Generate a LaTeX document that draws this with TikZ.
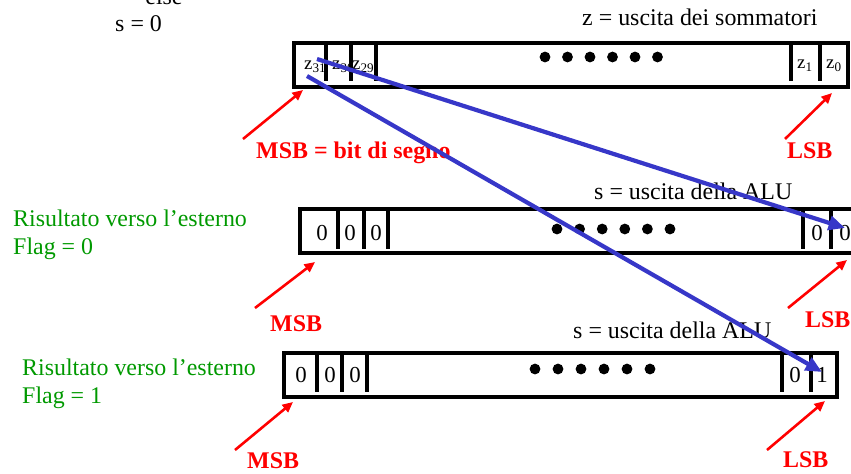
\documentclass[tikz,border=0pt]{standalone}
\usepackage{fontspec}
\setmainfont{Liberation Serif}
\usetikzlibrary{arrows.meta}
\definecolor{flaggreen}{RGB}{0,153,0}
\definecolor{wireblue}{RGB}{55,55,200}
\begin{document}
\begin{tikzpicture}
[
x=0.03cm, y=-0.03cm,
regline/.style={line width=2.8pt},
celltext/.style={font=\fontsize{19.5}{22}\selectfont, anchor=base, inner sep=0},
ztext/.style={font=\fontsize{16}{18}\selectfont, anchor=base west, inner sep=0},
plaintext/.style={font=\fontsize{20.4}{24}\selectfont, anchor=base west, inner sep=0},
greentext/.style={plaintext, text=flaggreen},
redtext/.style={plaintext, text=red, font=\fontsize{20.4}{24}\selectfont\bfseries},
redarrow/.style={draw=red, line width=2.2pt, -{Triangle[length=9pt,width=8pt]}},
bluearrow/.style={draw=wireblue, line width=3.6pt, -{Triangle[length=14pt,width=12pt]}}
]
\useasboundingbox (0,0) rectangle (851,473);
%Registers
\draw[regline] (294,43) rectangle (848,87);
\foreach \x in {326,351,376,791,820} \draw[regline] (\x,41) -- (\x,81);
\foreach \i in {0,...,5} \fill (545+22.5*\i,57) circle[radius=4.6pt];
\draw[regline] (870,209) -- (300,209) -- (300,253) -- (870,253);
\foreach \x in {338,364,388,803,831} \draw[regline] (\x,209) -- (\x,249);
\foreach \i in {0,...,5} \fill (557+22.6*\i,229) circle[radius=4.6pt];
\draw[regline] (284,353) rectangle (837,397);
\foreach \x in {317,342,367,782,811} \draw[regline] (\x,353) -- (\x,392);
\foreach \i in {0,...,5} \fill (535+23*\i,369) circle[radius=4.6pt];
%Nodes
\node[plaintext, anchor=base] at(164,4)		(els) {else};
\node[plaintext] at(115,31)		(s0) {s = 0};
\node[plaintext] at(582,25)		(zout) {z = uscita dei sommatori};
\node[ztext] at(304,69)		(z31) {z\textsubscript{31}};
\node[ztext] at(332,69)		(z30) {z\textsubscript{30}};
\node[ztext] at(352,69)		(z29) {z\textsubscript{29}};
\node[ztext] at(797,68)		(z1) {z\textsubscript{1}};
\node[ztext] at(826,68)		(z0) {z\textsubscript{0}};
\node[redtext] at(256,158)		(sign) {MSB = bit di segno};
\node[redtext] at(787,158)		(lsb1) {LSB};
\node[plaintext] at(594,199)		(alu1) {s = uscita della ALU};
\node[greentext] at(13,226)		(out1) {Risultato verso l’esterno};
\node[greentext] at(13,254)		(flag0) {Flag = 0};
\node[celltext] at(322,240)		(a31) {0};
\node[celltext] at(350,240)		(a30) {0};
\node[celltext] at(376,240)		(a29) {0};
\node[celltext] at(817,240)		(a1) {0};
\node[celltext] at(845,240)		(a0) {0};
\node[redtext] at(270,331)		(msb2) {MSB};
\node[redtext] at(805,327)		(lsb2) {LSB};
\node[plaintext] at(573,338)		(alu2) {s = uscita della ALU};
\node[greentext] at(22,375)		(out2) {Risultato verso l’esterno};
\node[greentext] at(22,403)		(flag1) {Flag = 1};
\node[celltext] at(301,382)		(b31) {0};
\node[celltext] at(330,382)		(b30) {0};
\node[celltext] at(355,382)		(b29) {0};
\node[celltext] at(795,382)		(b1) {0};
\node[celltext] at(822,382)		(b0) {1};
\node[redtext] at(247,468)		(msb3) {MSB};
\node[redtext] at(783,467)		(lsb3) {LSB};
%Arrow ends
\coordinate (m1t) at(243,139);	\coordinate (m1h) at(303,90);
\coordinate (l1t) at(785,139);	\coordinate (l1h) at(832,93);
\coordinate (m2t) at(255,308);	\coordinate (m2h) at(315,262);
\coordinate (l2t) at(788,308);	\coordinate (l2h) at(847,260);
\coordinate (m3t) at(235,450);	\coordinate (m3h) at(293,402);
\coordinate (l3t) at(767,450);	\coordinate (l3h) at(825,401);
\coordinate (sgnA) at(317,59);	\coordinate (sgnB) at(307,76);
\coordinate (bitA) at(845,228);	\coordinate (bitB) at(822,372);
%Arrows
\draw[redarrow] (m1t) -- (m1h);
\draw[redarrow] (l1t) -- (l1h);
\draw[redarrow] (m2t) -- (m2h);
\draw[redarrow] (l2t) -- (l2h);
\draw[redarrow] (m3t) -- (m3h);
\draw[redarrow] (l3t) -- (l3h);
\draw[bluearrow] (sgnA) -- (bitA);
\draw[bluearrow] (sgnB) -- (bitB);
\end{tikzpicture}
\end{document}
